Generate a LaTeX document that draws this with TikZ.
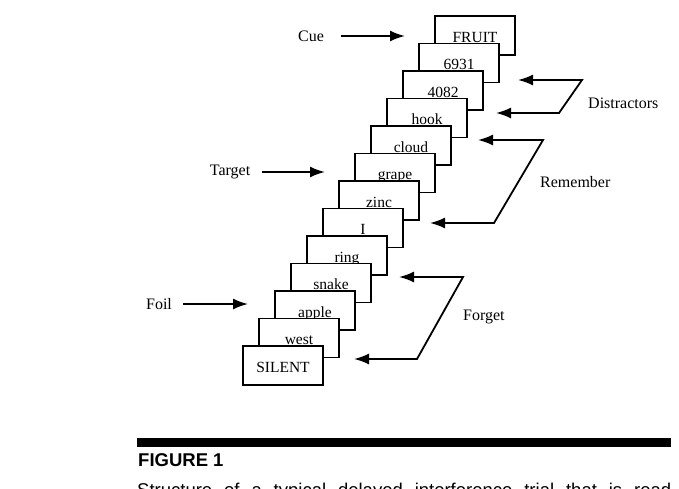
\documentclass[tikz,border=0pt]{standalone}
\usepackage{fontspec}
\setmainfont{Liberation Serif}
\setsansfont{Liberation Sans}
\usetikzlibrary{arrows.meta}
\begin{document}
\begin{tikzpicture}[x=1pt,y=-1pt,
 card/.style={draw, line width=1.6pt, fill=white, minimum width=80pt, minimum height=39pt, inner sep=0pt},
 cardtext/.style={font=\fontsize{15.5}{16}\selectfont, inner sep=0pt},
 lab/.style={font=\fontsize{16}{18}\selectfont, inner sep=0pt},
 arr/.style={line width=1.8pt, -{Latex[length=15pt,width=11pt]}},
 darr/.style={line width=1.8pt, {Latex[length=15pt,width=11pt]}-{Latex[length=15pt,width=11pt]}, line join=miter}]
\useasboundingbox (0,0) rectangle (679,488);
\clip (0,0) rectangle (679,488);
\foreach \i/\w in {0/FRUIT,1/6931,2/4082,3/hook,4/cloud,5/grape,6/zinc,7/I,8/ring,9/snake,10/apple,11/west,12/SILENT}{
  \pgfmathsetmacro\cx{475-16*\i}
  \pgfmathsetmacro\ty{16+27.5*\i}
  \node[card] (c\i) at (\cx,\ty+19.5) {};
  \node[cardtext, anchor=base] (t\i) at (\cx,\ty+26) {\w};
}
% left labels
\node[lab] (cue) at (311,36) {Cue};
\node[lab] (target) at (230,172) {Target};
\node[lab] (foil) at (159,304) {Foil};
\coordinate (cueS) at (341,36);   \coordinate (cueT) at (405,36);
\coordinate (tarS) at (262,172);  \coordinate (tarT) at (325,172);
\coordinate (foilS) at (183,304); \coordinate (foilT) at (248,304);
\draw[arr] (cueS) -- (cueT);
\draw[arr] (tarS) -- (tarT);
\draw[arr] (foilS) -- (foilT);
% right labels
\node[lab, anchor=west] (dist) at (588,103) {Distractors};
\node[lab, anchor=west] (rem) at (540,182) {Remember};
\node[lab, anchor=west] (forg) at (463,317) {Forget};
\coordinate (d1) at (518,80);  \coordinate (d2) at (582,80);
\coordinate (d3) at (559,113); \coordinate (d4) at (496,113);
\coordinate (r1) at (478,140); \coordinate (r2) at (543,140);
\coordinate (r3) at (494,223); \coordinate (r4) at (430,223);
\coordinate (f1) at (399,277); \coordinate (f2) at (463,277);
\coordinate (f3) at (417,359); \coordinate (f4) at (354,359);
\draw[darr] (d1) -- (d2) -- (d3) -- (d4);
\draw[darr] (r1) -- (r2) -- (r3) -- (r4);
\draw[darr] (f1) -- (f2) -- (f3) -- (f4);
% caption
\fill (137,438) rectangle (671,447);
\node[anchor=base west, inner sep=0pt, font=\sffamily\bfseries\fontsize{18.5}{20}\selectfont] (fig) at (138,466) {FIGURE 1};
\node[anchor=base west, inner sep=0pt, font=\sffamily\fontsize{18.5}{20}\selectfont] (cap) at (137,496) {\makebox[534pt][s]{Structure of a typical delayed interference trial that is read}};
\end{tikzpicture}
\end{document}
